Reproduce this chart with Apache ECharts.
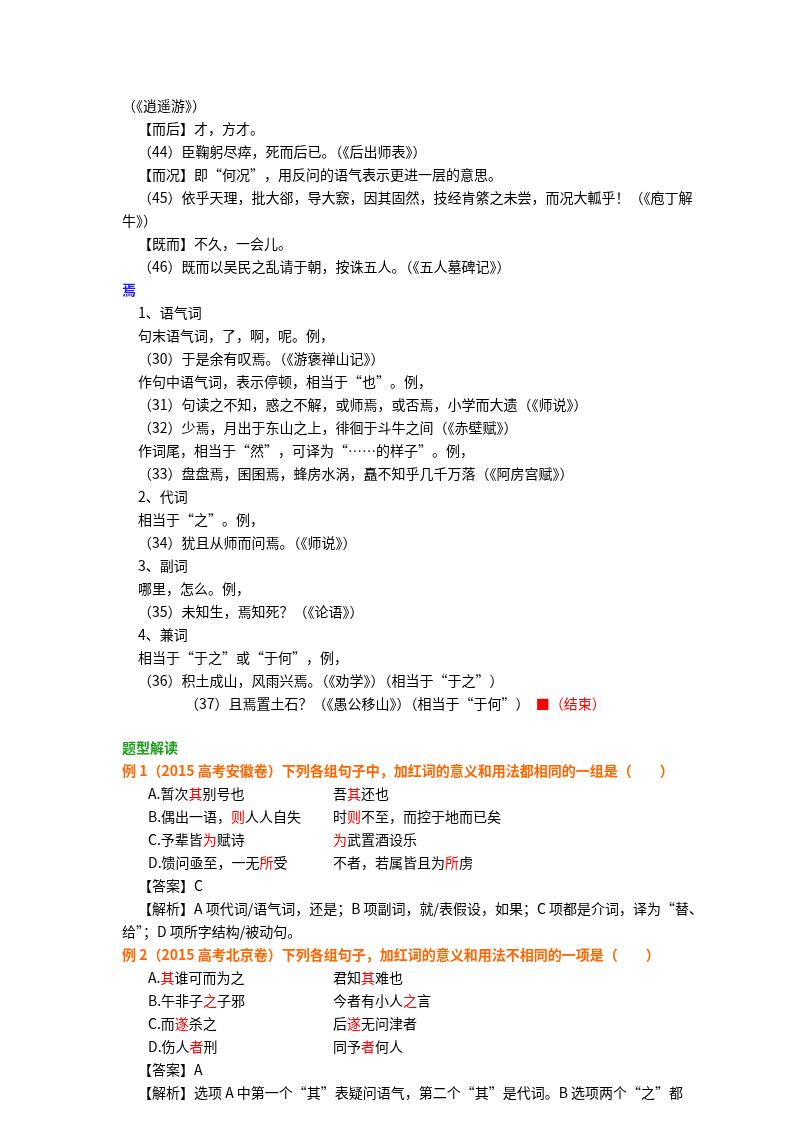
<!DOCTYPE html>
<html><head><meta charset="utf-8">
<script src="https://cdn.jsdelivr.net/npm/echarts@6/dist/echarts.min.js"></script>
<style>html,body{margin:0;background:#fff}#c{width:800px;height:1132px}</style>
</head><body><div id="c"></div>
<script>
// 正文行：[缩进级别, 文本, 样式]
var bodyLines = [
  [0, '（《逍遥游》）', 'n'],
  [1, '【而后】才，方才。', 'n'],
  [1, '（44）臣鞠躬尽瘁，死而后已。（《后出师表》）', 'n'],
  [1, '【而况】即“何况”，用反问的语气表示更进一层的意思。', 'n'],
  [1, '（45）依乎天理，批大郤，导大窾，因其固然，技经肯綮之未尝，而况大軱乎！（《庖丁解', 'n'],
  [0, '牛》）', 'n'],
  [1, '【既而】不久，一会儿。', 'n'],
  [1, '（46）既而以吴民之乱请于朝，按诛五人。（《五人墓碑记》）', 'n'],
  [0, '焉', 'blue'],
  [1, '1、语气词', 'n'],
  [1, '句末语气词，了，啊，呢。例，', 'n'],
  [1, '（30）于是余有叹焉。（《游褒禅山记》）', 'n'],
  [1, '作句中语气词，表示停顿，相当于“也”。例，', 'n'],
  [1, '（31）句读之不知，惑之不解，或师焉，或否焉，小学而大遗（《师说》）', 'n'],
  [1, '（32）少焉，月出于东山之上，徘徊于斗牛之间（《赤壁赋》）', 'n'],
  [1, '作词尾，相当于“然”，可译为“……的样子”。例，', 'n'],
  [1, '（33）盘盘焉，囷囷焉，蜂房水涡，矗不知乎几千万落（《阿房宫赋》）', 'n'],
  [1, '2、代词', 'n'],
  [1, '相当于“之”。例，', 'n'],
  [1, '（34）犹且从师而问焉。（《师说》）', 'n'],
  [1, '3、副词', 'n'],
  [1, '哪里，怎么。例，', 'n'],
  [1, '（35）未知生，焉知死？（《论语》）', 'n'],
  [1, '4、兼词', 'n'],
  [1, '相当于“于之”或“于何”，例，', 'n'],
  [1, '（36）积土成山，风雨兴焉。（《劝学》）（相当于“于之”）', 'n'],
  [3, '（37）且焉置土石？（《愚公移山》）（相当于“于何”）  {r|■（结束）}', 'n']
];
var quizLines = [
  [0, '题型解读', 'green'],
  [0, '例 1（2015 高考安徽卷）下列各组句子中，加红词的意义和用法都相同的一组是（　　）', 'orange'],
  [2, 'A.暂次{r|其}别号也', 'n', '吾{r|其}还也'],
  [2, 'B.偶出一语，{r|则}人人自失', 'n', '时{r|则}不至，而控于地而已矣'],
  [2, 'C.予辈皆{r|为}赋诗', 'n', '{r|为}武置酒设乐'],
  [2, 'D.馈问亟至，一无{r|所}受', 'n', '不者，若属皆且为{r|所}虏'],
  [1, '【答案】C', 'n'],
  [1, '【解析】A 项代词/语气词，还是；B 项副词，就/表假设，如果；C 项都是介词，译为“替、', 'n'],
  [0, '给”；D 项所字结构/被动句。', 'n'],
  [0, '例 2（2015 高考北京卷）下列各组句子，加红词的意义和用法不相同的一项是（　　）', 'orange'],
  [2, 'A.{r|其}谁可而为之', 'n', '君知{r|其}难也'],
  [2, 'B.午非子{r|之}子邪', 'n', '今者有小人{r|之}言'],
  [2, 'C.而{r|遂}杀之', 'n', '后{r|遂}无问津者'],
  [2, 'D.伤人{r|者}刑', 'n', '同予{r|者}何人'],
  [1, '【答案】A', 'n'],
  [1, '【解析】选项 A 中第一个“其”表疑问语气，第二个“其”是代词。B 选项两个“之”都', 'n']
];

var indentX = [122, 138, 148, 185];
var lineH = 23;
var font = '"Noto Sans CJK SC", sans-serif';
var styles = {
  n: {fill: '#000', fontWeight: 'normal'},
  blue: {fill: '#1a1aff', fontWeight: 'bold'},
  green: {fill: '#1a9e1a', fontWeight: 'bold'},
  orange: {fill: '#ff6600', fontWeight: 'bold'}
};
var rich = {r: {fill: '#ff0000', fontSize: 14, fontFamily: font}};

function textEl(x, y, txt, st) {
  return {
    type: 'text', left: x, top: y,
    style: {text: txt, fontSize: 14, fontFamily: font, fill: styles[st].fill,
      fontWeight: styles[st].fontWeight, rich: rich}
  };
}

var elements = [];
bodyLines.forEach(function (l, i) {
  elements.push(textEl(indentX[l[0]], 99 + i * lineH, l[1], l[2]));
});
quizLines.forEach(function (l, i) {
  var y = 741 + i * lineH;
  elements.push(textEl(indentX[l[0]], y, l[1], l[2]));
  if (l[3]) elements.push(textEl(333, y, l[3], l[2]));
});

var chart = echarts.init(document.getElementById('c'));
chart.setOption({backgroundColor: '#fff', graphic: {elements: elements}});
</script>
</body></html>
